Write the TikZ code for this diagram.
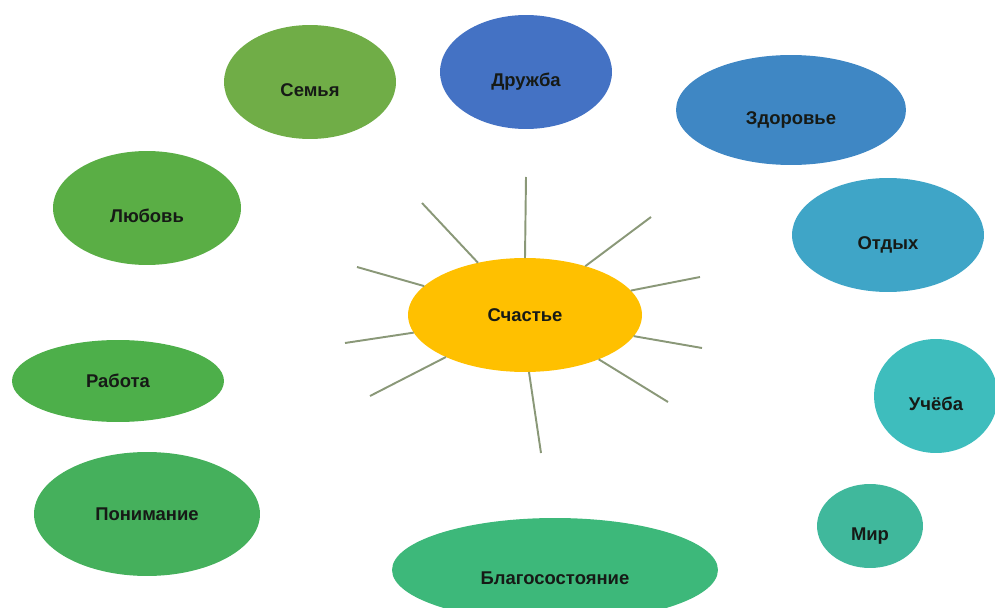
\documentclass[tikz,border=0pt]{standalone}
\usepackage{fontspec}
\setmainfont{Liberation Sans}
\definecolor{sunyellow}{HTML}{FFC000}
\definecolor{leafgreen}{HTML}{70AD47}
\definecolor{royalblue}{HTML}{4472C4}
\definecolor{steelblue}{HTML}{3F87C4}
\definecolor{skyteal}{HTML}{3FA5C7}
\definecolor{lagoon}{HTML}{3EBDBD}
\definecolor{seafoam}{HTML}{40B89C}
\definecolor{jade}{HTML}{3DB87A}
\definecolor{meadow}{HTML}{45B05C}
\definecolor{grassgreen}{HTML}{4DAF4A}
\definecolor{mossgreen}{HTML}{5AAE45}
\definecolor{raygray}{HTML}{8A9878}
\definecolor{inktext}{HTML}{161A16}
\usetikzlibrary{shapes.geometric}

\begin{document}
\begin{tikzpicture}[x=0.02cm,y=-0.02cm,
  bubble/.style={ellipse,inner sep=0pt,outer sep=0pt,
    font=\fontsize{10.5}{12}\selectfont\bfseries,text=inktext},
  drop/.style={text height=16pt,text depth=0pt},
  ray/.style={raygray,line width=1.1pt}]
  \clip (0,0) rectangle (995,608);
  % centre
  \node[bubble,fill=sunyellow,minimum width=4.68cm,minimum height=2.28cm] (sun) at (525,315) {Счастье};
  % rays round the centre
  \foreach \a/\x/\y [count=\i] in {90/526/177,132/422/203,164/357/267,189/345/343,208/370/396,
      274/541/453,329/668/402,349/702/348,13/700/277,39/651/217}{
    \coordinate (tip\i) at (\x,\y);
    \draw[ray] (sun.\a) -- (tip\i);
  }
  % top row
  \node[bubble,drop,fill=leafgreen,minimum width=3.44cm,minimum height=2.28cm] (family) at (310,82) {Семья};
  \node[bubble,drop,fill=royalblue,minimum width=3.44cm,minimum height=2.28cm] (friends) at (526,72) {Дружба};
  \node[bubble,drop,fill=steelblue,minimum width=4.6cm,minimum height=2.2cm] (health) at (791,110) {Здоровье};
  % right side
  \node[bubble,drop,fill=skyteal,minimum width=3.84cm,minimum height=2.28cm] (rest) at (888,235) {Отдых};
  \node[bubble,drop,fill=lagoon,minimum width=2.48cm,minimum height=2.28cm] (study) at (936,396) {Учёба};
  \node[bubble,drop,fill=seafoam,minimum width=2.12cm,minimum height=1.68cm] (peace) at (870,526) {Мир};
  % bottom
  \node[bubble,drop,fill=jade,minimum width=6.52cm,minimum height=2.08cm] (wealth) at (555,570) {Благосостояние};
  % left side
  \node[bubble,fill=meadow,minimum width=4.52cm,minimum height=2.48cm] (insight) at (147,514) {Понимание};
  \node[bubble,fill=grassgreen,minimum width=4.24cm,minimum height=1.64cm] (work) at (118,381) {Работа};
  \node[bubble,drop,fill=mossgreen,minimum width=3.76cm,minimum height=2.28cm] (love) at (147,208) {Любовь};
\end{tikzpicture}
\end{document}
